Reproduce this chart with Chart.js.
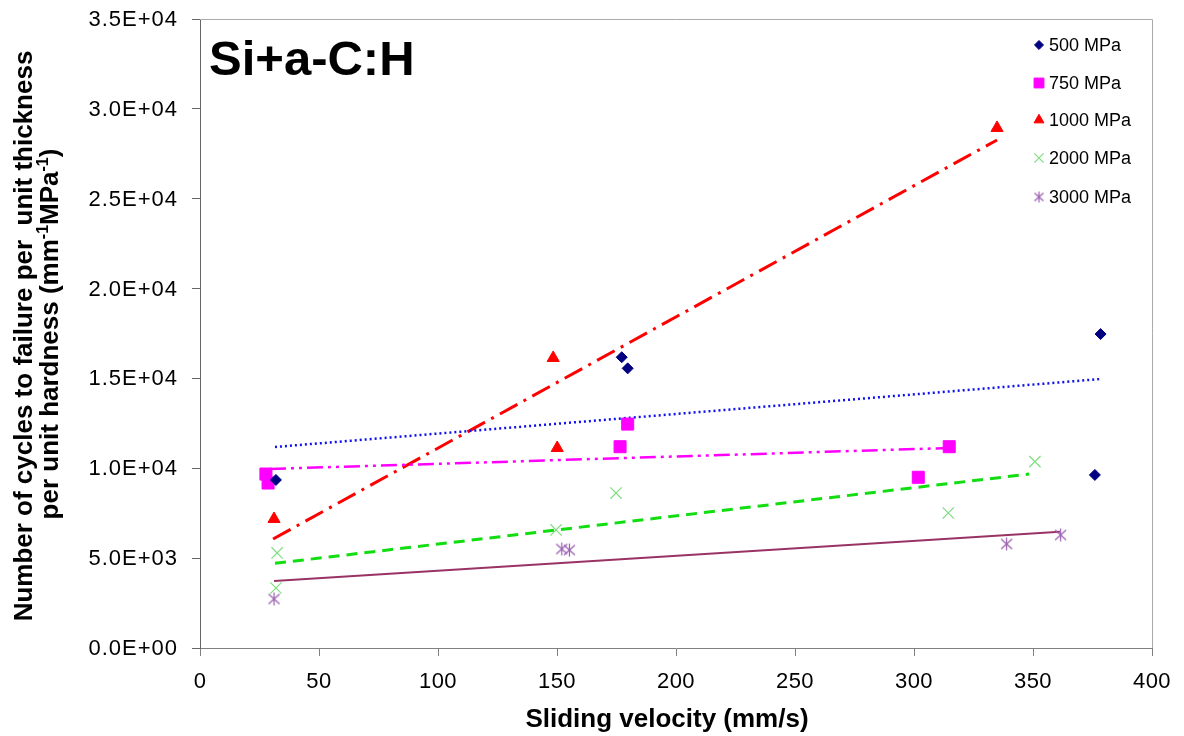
<!DOCTYPE html>
<html>
<head>
<meta charset="utf-8">
<script src="https://cdn.jsdelivr.net/npm/chart.js@4.4.0/dist/chart.umd.min.js"></script>
<style>
html, body { margin: 0; padding: 0; background: #fff; }
#wrap { width: 1184px; height: 736px; }
</style>
</head>
<body>
<div id="wrap"><canvas id="chart" width="1184" height="736"></canvas></div>
<script>
const seriesNames = ['500 MPa', '750 MPa', '1000 MPa', '2000 MPa', '3000 MPa'];

// measured points: sliding velocity (mm/s) and cycles per unit thickness per unit hardness
const vel500 = [31.9, 177.2, 179.7, 378.4, 376.0];
const cyc500 = [9350, 16180, 15560, 17470, 9630];
const vel750 = [27.7, 28.6, 176.5, 179.7, 301.8, 314.8];
const cyc750 = [9680, 9180, 11200, 12460, 9500, 11200];
const vel1000 = [31.1, 148.4, 150.1, 334.9];
const cyc1000 = [7180, 16140, 11130, 28940];
const vel2000 = [32.4, 31.9, 149.6, 174.8, 314.4, 350.8];
const cyc2000 = [5290, 3340, 6570, 8620, 7510, 10370];
const vel3000 = [31.1, 152.0, 155.2, 338.9, 361.6];
const cyc3000 = [2730, 5510, 5450, 5790, 6290];

// trend lines (start and end points)
const trendVel500 = [31.5, 378.6];
const trendCyc500 = [11185, 14970];
const trendVel750 = [29.4, 315.1];
const trendCyc750 = [9960, 11130];
const trendVel1000 = [30.7, 334.9];
const trendCyc1000 = [6065, 28270];
const trendVel2000 = [31.5, 348.4];
const trendCyc2000 = [4710, 9680];
const trendVel3000 = [31.1, 361.3];
const trendCyc3000 = [3730, 6470];

const xMin = 0, xMax = 400, xStep = 50;
const yMin = 0, yMax = 35000, yStep = 5000;

const FONT = '"Liberation Sans", Arial, sans-serif';

function toPoints(xs, ys) {
    return xs.map((x, i) => ({ x: x, y: ys[i] }));
}

function fmtE(v) {
    const parts = v.toExponential(1).split('e');
    const sign = parts[1][0];
    const digits = parts[1].slice(1).padStart(2, '0');
    return parts[0] + 'E' + sign + digits;
}

// asterisk marker for 3000 MPa
function makeAsterisk(color, size) {
    const c = document.createElement('canvas');
    c.width = size; c.height = size;
    const g = c.getContext('2d');
    const m = size / 2;
    g.strokeStyle = color;
    g.lineWidth = 1.2;
    g.beginPath();
    g.moveTo(m, 1); g.lineTo(m, size - 1);
    g.moveTo(2, 2.5); g.lineTo(size - 2, size - 2.5);
    g.moveTo(size - 2, 2.5); g.lineTo(2, size - 2.5);
    g.stroke();
    return c;
}
const asterisk = makeAsterisk('#9a5fb0', 15);
const asteriskSmall = makeAsterisk('#9a5fb0', 13);

const markers = [
    { style: 'rectRot', radius: 5.5, color: '#000080', border: 1 },
    { style: 'rect', radius: 8.5, color: '#ff00ff', border: 1 },
    { style: 'triangle', radius: 7, color: '#ff0000', border: 1 },
    { style: 'crossRot', radius: 8, color: '#80dd80', border: 1.2 },
    { style: asterisk, radius: 7, color: '#9a5fb0', border: 1 }
];

function pointSet(name, xs, ys, m) {
    return {
        label: name,
        data: toPoints(xs, ys),
        showLine: false,
        pointStyle: m.style,
        pointRadius: m.radius,
        pointBackgroundColor: m.color,
        pointBorderColor: m.color,
        pointBorderWidth: m.border
    };
}

function trendSet(xs, ys, color, width, dash) {
    return {
        label: 'trend',
        data: toPoints(xs, ys),
        showLine: true,
        pointRadius: 0,
        borderColor: color,
        borderWidth: width,
        borderDash: dash,
        fill: false
    };
}

const datasets = [
    pointSet(seriesNames[0], vel500, cyc500, markers[0]),
    pointSet(seriesNames[1], vel750, cyc750, markers[1]),
    pointSet(seriesNames[2], vel1000, cyc1000, markers[2]),
    pointSet(seriesNames[3], vel2000, cyc2000, markers[3]),
    pointSet(seriesNames[4], vel3000, cyc3000, markers[4]),
    trendSet(trendVel500, trendCyc500, '#1010ee', 2.5, [2, 3]),
    trendSet(trendVel750, trendCyc750, '#ff00ff', 2.5, [16, 5, 3, 5, 3, 5]),
    trendSet(trendVel1000, trendCyc1000, '#ff0000', 3, [20, 7, 3, 7]),
    trendSet(trendVel2000, trendCyc2000, '#11dd11', 3, [11, 7]),
    trendSet(trendVel3000, trendCyc3000, '#993366', 2, [])
];

// legend marker, a bit smaller than the plotted ones
function drawMarker(ctx, m, x, y) {
    if (m.style instanceof HTMLCanvasElement) {
        ctx.drawImage(asteriskSmall, x - asteriskSmall.width / 2, y - asteriskSmall.height / 2);
        return;
    }
    ctx.fillStyle = m.color;
    ctx.strokeStyle = m.color;
    ctx.lineWidth = m.border;
    Chart.helpers.drawPoint(ctx, {
        pointStyle: m.style,
        radius: m.radius * 0.82,
        rotation: 0,
        borderWidth: m.border
    }, x, y);
}

const decor = {
    id: 'decor',
    afterDraw(chart) {
        const ctx = chart.ctx;
        const area = chart.chartArea;
        const xs = chart.scales.x;
        const ys = chart.scales.y;
        ctx.save();

        // top and right frame
        ctx.strokeStyle = '#aaaaaa';
        ctx.lineWidth = 1;
        ctx.beginPath();
        ctx.moveTo(area.left, area.top + 0.5);
        ctx.lineTo(area.right + 0.5, area.top + 0.5);
        ctx.lineTo(area.right + 0.5, area.bottom);
        ctx.stroke();

        ctx.fillStyle = '#000';

        // y tick labels
        ctx.font = '22px ' + FONT;
        ctx.letterSpacing = '1px';
        ctx.textAlign = 'right';
        ctx.textBaseline = 'middle';
        ys.ticks.forEach(t => {
            const py = ys.getPixelForValue(t.value);
            ctx.fillText(fmtE(t.value), 178, py + 1);
        });

        // x tick labels
        ctx.font = '22px ' + FONT;
        ctx.letterSpacing = '0.5px';
        ctx.textAlign = 'center';
        ctx.textBaseline = 'alphabetic';
        xs.ticks.forEach(t => {
            const px = xs.getPixelForValue(t.value);
            ctx.fillText(String(t.value), px, 688);
        });
        ctx.letterSpacing = '0px';

        // x title
        ctx.font = 'bold 26px ' + FONT;
        ctx.fillText('Sliding velocity (mm/s)', 667, 727);

        // y title, two rotated lines
        ctx.save();
        ctx.translate(32, 336);
        ctx.rotate(-Math.PI / 2);
        ctx.font = 'bold 26px ' + FONT;
        ctx.textAlign = 'center';
        ctx.fillText('Number of cycles to failure per  unit thickness', 0, 0);
        ctx.restore();

        ctx.save();
        ctx.translate(58, 334);
        ctx.rotate(-Math.PI / 2);
        const pieces = [
            ['per unit hardness (mm', false],
            ['-1', true],
            ['MPa', false],
            ['-1', true],
            [')', false]
        ];
        let total = 0;
        pieces.forEach(p => {
            ctx.font = (p[1] ? 'bold 16px ' : 'bold 26px ') + FONT;
            total += ctx.measureText(p[0]).width;
        });
        let cx = -total / 2;
        ctx.textAlign = 'left';
        pieces.forEach(p => {
            ctx.font = (p[1] ? 'bold 16px ' : 'bold 26px ') + FONT;
            ctx.fillText(p[0], cx, p[1] ? -10 : 0);
            cx += ctx.measureText(p[0]).width;
        });
        ctx.restore();

        // chart label
        ctx.font = 'bold 49px ' + FONT;
        ctx.textAlign = 'left';
        ctx.fillText('Si+a-C:H', 209, 75);

        // legend
        const rowY = [45, 83, 120, 158, 197];
        seriesNames.forEach((name, i) => {
            drawMarker(ctx, markers[i], 1039, rowY[i]);
            ctx.fillStyle = '#000';
            ctx.font = '18px ' + FONT;
            ctx.textAlign = 'left';
            ctx.textBaseline = 'middle';
            ctx.fillText(name, 1049, rowY[i] + 1);
        });
        ctx.restore();
    }
};

const ctx = document.getElementById('chart').getContext('2d');
window.myChart = new Chart(ctx, {
    type: 'scatter',
    data: { datasets: datasets },
    options: {
        responsive: false,
        animation: false,
        layout: { padding: { left: 0, right: 32, top: 19, bottom: 0 } },
        plugins: {
            legend: { display: false },
            tooltip: { enabled: false },
            title: { display: false }
        },
        scales: {
            x: {
                type: 'linear',
                min: xMin,
                max: xMax,
                ticks: { display: false, stepSize: xStep },
                grid: { drawOnChartArea: false, drawTicks: true, tickLength: 8, color: '#808080' },
                border: { display: true, color: '#808080' },
                afterFit: function(scale) { scale.height = 88; }
            },
            y: {
                type: 'linear',
                min: yMin,
                max: yMax,
                ticks: { display: false, stepSize: yStep },
                grid: { drawOnChartArea: false, drawTicks: true, tickLength: 8, color: '#666666' },
                border: { display: true, color: '#666666' },
                afterFit: function(scale) { scale.width = 200; }
            }
        }
    },
    plugins: [decor]
});
</script>
</body>
</html>
